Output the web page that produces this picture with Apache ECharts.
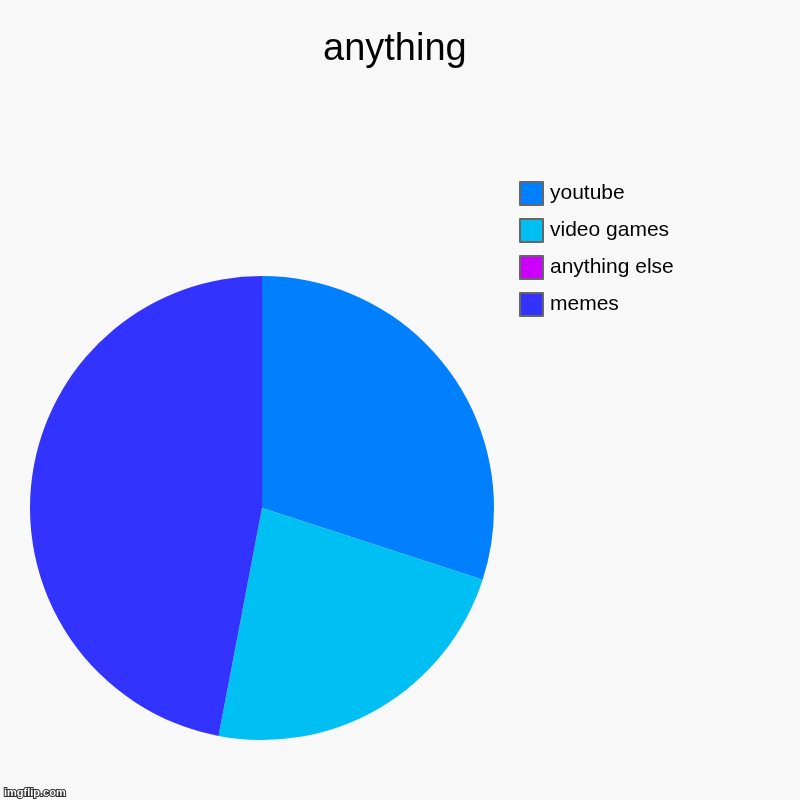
<!DOCTYPE html>
<html>
<head>
<meta charset="utf-8">
<script src="https://cdn.jsdelivr.net/npm/echarts@6/dist/echarts.min.js"></script>
<style>
  html, body { margin: 0; padding: 0; background: #f8f8f8; }
  #chart { width: 800px; height: 800px; }
</style>
</head>
<body>
<div id="chart"></div>
<script>
// slices, in the order they are drawn (clockwise from 12 o'clock)
const categories = ["youtube", "video games", "anything else", "memes"];
const values = [30, 23, 0, 47];
const colors = ["#0080ff", "#00bff3", "#cc00ff", "#3333ff"];

const myChart = echarts.init(document.getElementById("chart"));

const option = {
  backgroundColor: "#f8f8f8",
  animation: false,
  title: {
    text: "anything",
    left: 323,
    top: 31,
    padding: 0,
    textStyle: {
      fontFamily: "Liberation Sans, Arial, sans-serif",
      fontSize: 38,
      fontWeight: "normal",
      color: "#000"
    }
  },
  legend: {
    orient: "vertical",
    left: 519,
    top: 181,
    padding: 0,
    itemWidth: 23,
    itemHeight: 23,
    itemGap: 12,
    icon: "rect",
    selectedMode: false,
    data: categories,
    itemStyle: {
      borderColor: "#666",
      borderWidth: 2
    },
    textStyle: {
      fontFamily: "Liberation Sans, Arial, sans-serif",
      fontSize: 21,
      color: "#000",
      padding: [0, 0, 0, 2]
    }
  },
  graphic: [
    {
      type: "text",
      left: 3,
      top: 786,
      style: {
        text: "imgflip.com",
        font: "bold 11px Liberation Sans, Arial, sans-serif",
        fill: "#fff",
        stroke: "#333",
        lineWidth: 2
      }
    }
  ],
  series: [
    {
      type: "pie",
      center: [262, 508],
      radius: 232,
      startAngle: 90,
      clockwise: true,
      label: { show: false },
      labelLine: { show: false },
      emphasis: { disabled: true },
      itemStyle: { borderWidth: 0 },
      data: categories.map(function (name, i) {
        return { name: name, value: values[i], itemStyle: { color: colors[i] } };
      })
    }
  ]
};

myChart.setOption(option);
</script>
</body>
</html>
